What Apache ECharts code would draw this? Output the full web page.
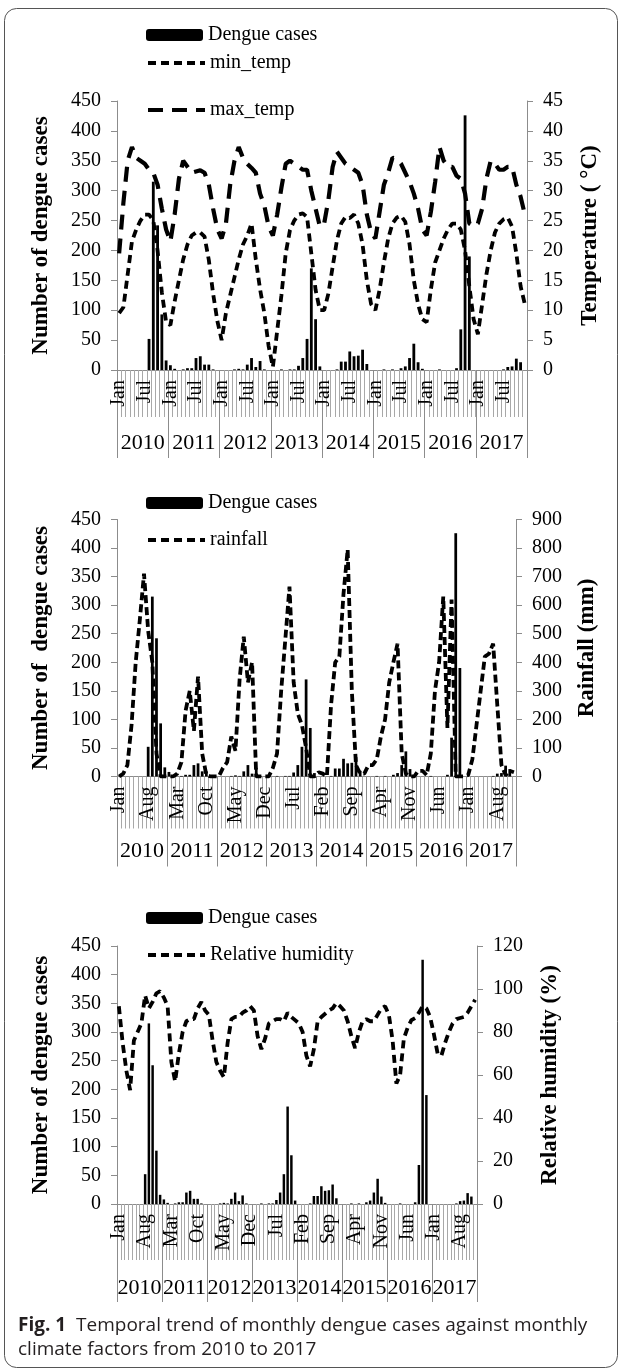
<!DOCTYPE html>
<html>
<head>
<meta charset="utf-8">
<title>Monthly dengue cases and climate factors, 2010-2017</title>
<script src="https://cdn.jsdelivr.net/npm/echarts@6.0.0/dist/echarts.min.js"></script>
<style>
  html, body { margin: 0; padding: 0; background: #fff; }
  #chart { width: 622px; height: 1372px; }
</style>
</head>
<body>
<div id="chart"></div>
<script>
// ---- data ----
const years = ['2010', '2011', '2012', '2013', '2014', '2015', '2016', '2017'];
const monthNames = ['Jan', 'Feb', 'Mar', 'Apr', 'May', 'Jun', 'Jul', 'Aug', 'Sep', 'Oct', 'Nov', 'Dec'];

const dengueCases = [
  0, 0, 0, 0, 0, 0, 0, 52, 315, 242, 93, 16,     // 2010
  8, 2, 0, 1, 3, 3, 20, 23, 9, 9, 1, 0,          // 2011
  0, 0, 0, 1, 2, 1, 9, 20, 5, 15, 1, 0,          // 2012
  0, 0, 1, 0, 1, 1, 7, 20, 52, 170, 85, 6,       // 2013
  0, 0, 0, 1, 14, 14, 31, 23, 24, 34, 10, 0,     // 2014
  0, 0, 1, 0, 1, 0, 3, 6, 20, 44, 13, 2,         // 2015
  0, 0, 0, 1, 0, 0, 0, 3, 68, 426, 190, 0,       // 2016
  0, 0, 0, 0, 0, 0, 1, 5, 6, 19, 13, 0           // 2017
];

const minTemp = [
  9.5, 10.5, 16, 21.5, 23.5, 25, 26, 26, 25, 20, 13, 8,
  7.5, 11.5, 15, 18.5, 21, 22.5, 23, 23, 22.3, 18.4, 12.8, 8.2,
  5, 9.5, 12.5, 15.5, 18.5, 21, 22.5, 24.5, 18.5, 13.5, 9.5, 4,
  0.5, 6.5, 12.5, 19.5, 23.4, 25, 26, 26.2, 25.6, 19.5, 13.4, 10,
  10, 12.8, 17.3, 21.7, 24.5, 25.6, 25.4, 26, 24.5, 21, 15, 11,
  10, 13.5, 18, 22, 24.5, 25.5, 25.8, 24.8, 21, 15, 11, 8.5,
  8, 13.5, 18, 20, 22, 23.5, 24.5, 24.5, 23.5, 20, 14, 8.5,
  6, 11, 16, 20, 23, 24.5, 25.2, 25.5, 24, 19.5, 14, 11
];

const maxTemp = [
  19.5, 28, 35, 37.3, 35.5, 35, 34.5, 33.5, 33, 31, 27, 23.5,
  21.5, 26, 32, 35, 34, 33, 33.2, 33.4, 33, 31, 27, 23.5,
  22, 24.5, 31, 35, 37.3, 35.5, 34.5, 33.8, 33, 29.5, 27.5, 24,
  22.5, 26, 30.5, 34.5, 35, 34.5, 34, 33.5, 33.5, 30, 27, 24,
  24.5, 28.5, 34, 36.5, 35.5, 34.5, 34, 33.5, 33, 31, 26, 23,
  22, 26.5, 31, 33, 35.5, 35.3, 34.5, 33, 31.5, 29.5, 27, 23.5,
  22.5, 26.5, 31.5, 37.3, 35, 34, 34, 32.5, 32, 29.5, 24.5, 24,
  24.5, 27, 32, 35, 34.5, 33.5, 33.5, 34, 34, 31, 29, 26
];

const rainfall = [
  0, 10, 40, 180, 400, 550, 710, 510, 400, 80, 0, 0,
  0, 0, 10, 50, 230, 300, 160, 350, 80, 5, 0, 0,
  0, 30, 50, 140, 90, 340, 490, 330, 400, 0, 0, 0,
  0, 30, 80, 300, 480, 665, 330, 220, 180, 100, 0, 0,
  15, 10, 0, 250, 400, 420, 640, 795, 300, 40, 10, 10,
  40, 40, 60, 140, 200, 330, 400, 465, 80, 10, 0, 0,
  20, 20, 5, 80, 300, 400, 630, 170, 620, 0, 0, 0,
  5, 60, 180, 300, 420, 430, 465, 250, 40, 5, 20, 15
];

const humidity = [
  92, 75, 62, 53, 76, 80, 84, 97, 91, 94, 98, 99,
  96, 92, 66, 57, 70, 80, 85, 86, 86, 91, 94, 90,
  88, 76, 66, 62, 59, 75, 86, 87, 87, 89, 90, 92,
  90, 78, 72, 77, 84, 85, 86, 86, 85, 89, 87, 85.5,
  84, 80, 69, 64, 72, 85, 87, 88.5, 90, 91, 93.5, 92,
  90, 85, 78, 72.5, 80, 85, 86, 85, 85, 88, 91, 92,
  88, 76, 56, 60, 77, 82, 85.5, 86.5, 89, 92, 91, 87,
  79, 70, 69, 75, 80, 84, 86, 86.5, 87, 89, 92, 95
];

const caseTicks = [0, 50, 100, 150, 200, 250, 300, 350, 400, 450];
const tempTicks = [0, 5, 10, 15, 20, 25, 30, 35, 40, 45];
const rainTicks = [0, 100, 200, 300, 400, 500, 600, 700, 800, 900];
const humidityTicks = [0, 20, 40, 60, 80, 100, 120];

// ---- layout ----
const SERIF = "'Liberation Serif', 'Times New Roman', serif";
const SANS = "'Open Sans', 'Noto Sans', sans-serif";
const AXIS_GREY = '#8c8c8c';
const TICK_GREY = '#a8a8a8';

const SHORT_DASH = [8, 5];
const LONG_DASH = [15, 9];
const LINE_W = 3.8;

const monthCats = [];
years.forEach(() => monthNames.forEach(m => monthCats.push(m)));

const panels = [
  {
    grid: { left: 117, top: 101, width: 410, height: 269 },
    every: 6, monthTick: 47, yearTick: 88, yearMargin: 62,
    leftName: 'Number of dengue cases',
    rightName: 'Temperature ( °C)', rightTicks: tempTicks, rightGap: 52,
    legends: [['Dengue cases', 25, null], ['min_temp', 53, SHORT_DASH], ['max_temp', 100, LONG_DASH]]
  },
  {
    grid: { left: 117, top: 519.5, width: 399, height: 257 },
    every: 7, monthTick: 52, yearTick: 90, yearMargin: 64,
    leftName: 'Number of  dengue cases',
    rightName: 'Rainfall (mm)', rightTicks: rainTicks, rightGap: 60,
    legends: [['Dengue cases', 493, null], ['rainfall', 530, SHORT_DASH]]
  },
  {
    grid: { left: 117, top: 946, width: 360, height: 258 },
    every: 7, monthTick: 56, yearTick: 98, yearMargin: 73,
    leftName: 'Number of dengue cases',
    rightName: 'Relative humidity (%)', rightTicks: humidityTicks, rightGap: 62,
    legends: [['Dengue cases', 908, null], ['Relative humidity', 945, SHORT_DASH]]
  }
];

const xAxis = [];
const yAxis = [];
const legend = [];

function valueAxis(i, ticks, side, name, gap) {
  return {
    type: 'value', gridIndex: i, position: side,
    min: ticks[0], max: ticks[ticks.length - 1], interval: ticks[1] - ticks[0],
    axisLine: { show: true, lineStyle: { color: AXIS_GREY, width: 1 } },
    axisTick: { show: true, length: 6, lineStyle: { color: AXIS_GREY } },
    splitLine: { show: false },
    axisLabel: { margin: 16, fontFamily: SERIF, fontSize: 20, color: '#000' },
    name: name, nameLocation: 'middle', nameRotate: 90, nameGap: gap,
    nameTextStyle: { fontFamily: SERIF, fontSize: 23, fontWeight: 'bold', color: '#000' }
  };
}

panels.forEach((p, i) => {
  xAxis.push({
    type: 'category', gridIndex: i, position: 'bottom', data: monthCats,
    axisLine: { show: true, lineStyle: { color: AXIS_GREY } },
    axisTick: { show: true, interval: 0, length: p.monthTick, lineStyle: { color: TICK_GREY } },
    axisLabel: {
      interval: p.every - 1, rotate: 90, margin: 10,
      fontFamily: SERIF, fontSize: 20, color: '#000'
    },
    splitLine: { show: false }
  });
  xAxis.push({
    type: 'category', gridIndex: i, position: 'bottom', data: years,
    axisLine: { show: false },
    axisTick: { show: true, interval: 0, length: p.yearTick, lineStyle: { color: AXIS_GREY } },
    axisLabel: { interval: 0, margin: p.yearMargin, fontFamily: SERIF, fontSize: 22, color: '#000' },
    splitLine: { show: false }
  });
  yAxis.push(valueAxis(i, caseTicks, 'left', p.leftName, 64));
  yAxis.push(valueAxis(i, p.rightTicks, 'right', p.rightName, p.rightGap));

  p.legends.forEach(([name, top, dash]) => {
    const item = {
      data: [name], left: 146, top: top, orient: 'horizontal',
      itemWidth: 57, itemHeight: 12, selectedMode: false, padding: 0,
      textStyle: { fontFamily: SERIF, fontSize: 20, color: '#000' }
    };
    if (dash) {
      // line legends: thick dashed stroke, no marker dot
      item.itemStyle = { opacity: 0 };
      item.lineStyle = { color: '#000', width: 4, type: dash, cap: 'butt' };
    }
    legend.push(item);
  });
});

function casesBar(i) {
  return {
    name: 'Dengue cases', type: 'bar', xAxisIndex: 2 * i, yAxisIndex: 2 * i,
    data: dengueCases, barWidth: '66%', itemStyle: { color: '#000' }, z: 2
  };
}

function dashed(name, i, data, dash, width) {
  return {
    name: name, type: 'line', xAxisIndex: 2 * i, yAxisIndex: 2 * i + 1,
    data: data, symbol: 'none', z: 3,
    itemStyle: { color: '#000' },
    lineStyle: { color: '#000', width: width, type: dash }
  };
}

const series = [
  casesBar(0),
  dashed('min_temp', 0, minTemp, SHORT_DASH, LINE_W),
  dashed('max_temp', 0, maxTemp, LONG_DASH, 4.2),
  casesBar(1),
  dashed('rainfall', 1, rainfall, [8, 4], LINE_W),
  casesBar(2),
  dashed('Relative humidity', 2, humidity, SHORT_DASH, LINE_W)
];

const chart = echarts.init(document.getElementById('chart'), null, { renderer: 'canvas' });

chart.setOption({
  animation: false,
  backgroundColor: '#fff',
  textStyle: { fontFamily: SERIF },
  grid: panels.map(p => p.grid),
  legend: legend,
  xAxis: xAxis,
  yAxis: yAxis,
  series: series,
  graphic: [
    {
      type: 'rect', z: -10,
      shape: { x: 4.5, y: 8.5, width: 613, height: 1359, r: 12 },
      style: { fill: 'none', stroke: '#555', lineWidth: 1 }
    },
    {
      type: 'text', left: 18, top: 1316,
      style: {
        text: '{b|Fig. 1}  Temporal trend of monthly dengue cases against monthly',
        fontFamily: SANS, fontSize: 19, fill: '#231f20',
        rich: { b: { fontFamily: SANS, fontSize: 19, fontWeight: 'bold', fill: '#231f20' } }
      }
    },
    {
      type: 'text', left: 18, top: 1340,
      style: {
        text: 'climate factors from 2010 to 2017',
        fontFamily: SANS, fontSize: 19, fill: '#231f20'
      }
    }
  ]
});
</script>
</body>
</html>
